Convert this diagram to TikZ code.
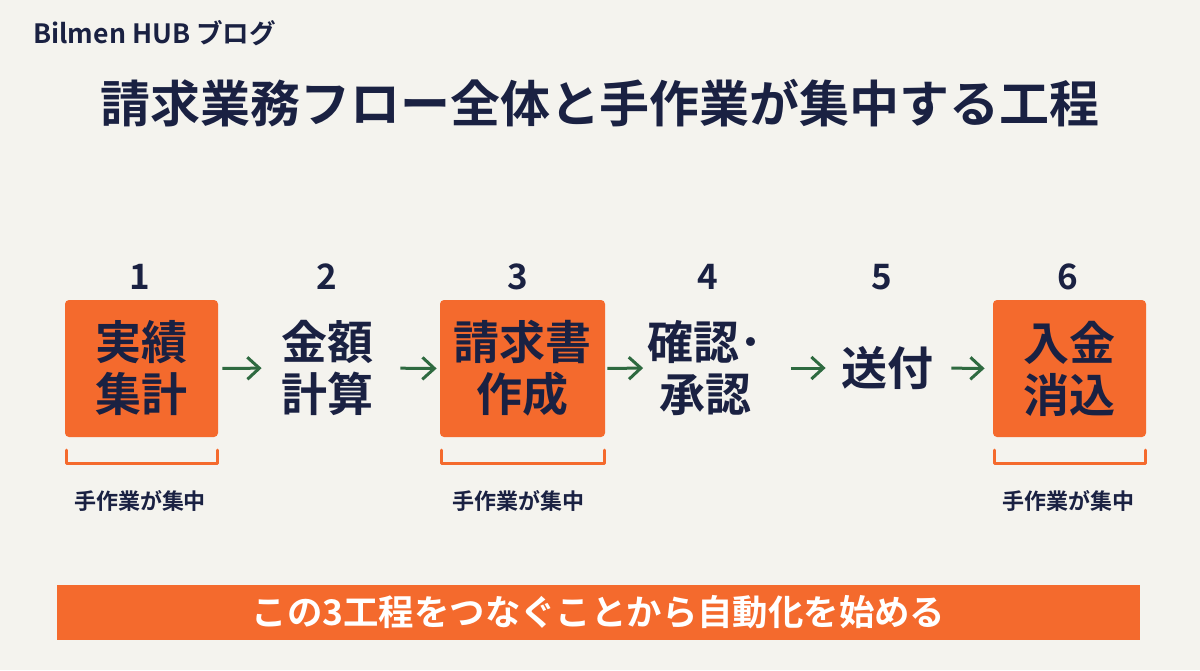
\documentclass[tikz,border=0pt]{standalone}
\usepackage{fontspec}
\setmainfont{Noto Sans CJK JP}[BoldFont={Noto Sans CJK JP Bold}]
\usetikzlibrary{arrows.meta}
\definecolor{bg}{HTML}{F4F3EE}
\definecolor{navy}{HTML}{1A2142}
\definecolor{orng}{HTML}{F46A2D}
\definecolor{grn}{HTML}{2E6A40}
\tikzset{
  px/.style={x=0.5pt,y=-0.5pt},
  stepnum/.style={text=navy,font=\bfseries\fontsize{17.5}{20}\selectfont,inner sep=0},
  boxstep/.style={fill=orng,rounded corners=2pt,text=navy,align=center,
     font=\bfseries\fontsize{23}{26}\selectfont,inner sep=0,anchor=center},
  plainstep/.style={text=navy,align=center,font=\bfseries\fontsize{23}{26}\selectfont,inner sep=0},
  flowarrow/.style={draw=grn,line width=1.5pt,-{Straight Barb[length=6pt,width=11pt,line width=1.5pt]}},
  bracket/.style={draw=orng,line width=1.5pt,line cap=round,line join=round},
  manual/.style={text=navy,font=\bfseries\fontsize{11}{13}\selectfont,inner sep=0},
}
\begin{document}
\begin{tikzpicture}[px]
\fill[bg] (0,0) rectangle (1200,670);
\useasboundingbox (0,0) rectangle (1200,670);
\node[anchor=west,text=navy,font=\bfseries\fontsize{13.3}{16}\selectfont,inner sep=0] (brand) at (33,33) {Bilmen HUB ブログ};
\node[text=navy,font=\bfseries\fontsize{25}{30}\selectfont,inner sep=0] (title) at (600,103) {請求業務フロー全体と手作業が集中する工程};
% numbers
\node[stepnum] (n1) at (140,277) {1};
\node[stepnum] (n2) at (327,277) {2};
\node[stepnum] (n3) at (518,277) {3};
\node[stepnum] (n4) at (708,277) {4};
\node[stepnum] (n5) at (882,277) {5};
\node[stepnum] (n6) at (1068,277) {6};
% steps
\node[boxstep,minimum width=76.5pt,minimum height=68.5pt] (b1) at (141.5,368.5) {実績\\集計};
\node[plainstep] (s2) at (327,368) {金額\\計算};
\node[boxstep,minimum width=82.5pt,minimum height=68.5pt] (b3) at (522.5,368.5) {請求書\\作成};
\node[plainstep] (s4) at (705,368) {確認･\\承認};
\node[plainstep] (s5) at (887,368) {送付};
\node[boxstep,minimum width=76.5pt,minimum height=68.5pt] (b6) at (1069.5,368.5) {入金\\消込};
% arrows
\draw[flowarrow,shorten <=2pt,shorten >=9.5pt] (b1.east) -- (s2.west);
\draw[flowarrow,shorten <=13.5pt,shorten >=1.5pt] (s2.east) -- (b3.west);
\draw[flowarrow,shorten <=1pt,shorten >=2pt] (b3.east) -- (s4.west);
\draw[flowarrow,shorten <=14pt,shorten >=7.5pt] (s4.east) -- (s5.west);
\draw[flowarrow,shorten <=9pt,shorten >=4pt] (s5.east) -- (b6.west);
% brackets
\coordinate (k1a) at (66,450); \coordinate (k1b) at (217,450);
\draw[bracket] (k1a) -- ++(0,13) -| (k1b);
\coordinate (k3a) at (441,450); \coordinate (k3b) at (604,450);
\draw[bracket] (k3a) -- ++(0,13) -| (k3b);
\coordinate (k6a) at (994,450); \coordinate (k6b) at (1145,450);
\draw[bracket] (k6a) -- ++(0,13) -| (k6b);
% labels
\node[manual] (m1) at (140,501) {手作業が集中};
\node[manual] (m3) at (518,501) {手作業が集中};
\node[manual] (m6) at (1068,501) {手作業が集中};
% bottom bar
\node[fill=orng,minimum width=541.5pt,minimum height=27.5pt,inner sep=0,text=white,
  font=\bfseries\fontsize{17.7}{20}\selectfont] (bar) at (598.5,612.5) {この3工程をつなぐことから自動化を始める};
\end{tikzpicture}
\end{document}
